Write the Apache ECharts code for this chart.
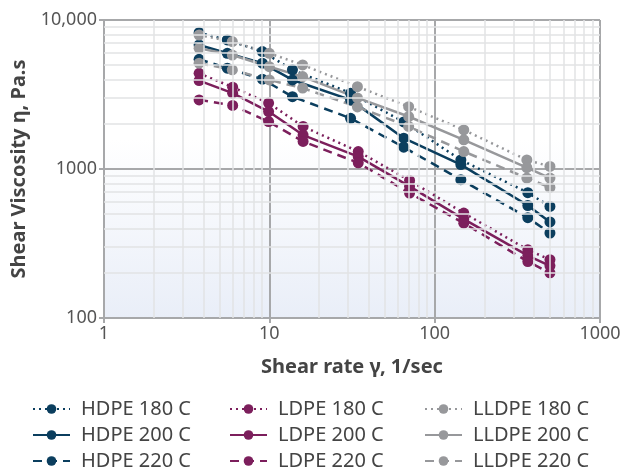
<!DOCTYPE html>
<html>
<head>
<meta charset="utf-8">
<script src="https://cdn.jsdelivr.net/npm/echarts@6/dist/echarts.min.js"></script>
<style>
  html, body { margin: 0; padding: 0; background: #fff; }
  #chart { width: 637px; height: 472px; }
</style>
</head>
<body>
<div id="chart"></div>
<script>
// shear rates (1/sec) per material
const hdpeRate  = [3.76, 5.57, 9.07, 13.8, 31, 65, 144, 366, 498];
const ldpeRate  = [3.76, 6.0, 9.9, 16, 34.5, 70.5, 150, 366, 498];
const lldpeRate = [3.76, 5.97, 10, 15.9, 34.1, 69.6, 150, 361, 498];

// shear viscosity (Pa.s)
const hdpe180  = [8220, 7350, 6140, 4630, 3230, 2070, 1150, 694, 561];
const hdpe200  = [6800, 5980, 5130, 3960, 2910, 1610, 1070, 569, 441];
const hdpe220  = [5450, 4750, 4010, 3060, 2190, 1400, 848, 471, 372];
const ldpe180  = [4390, 3540, 2770, 1930, 1310, 838, 506, 287, 246];
const ldpe200  = [3920, 3230, 2430, 1690, 1210, 764, 461, 262, 224];
const ldpe220  = [2910, 2670, 2080, 1530, 1100, 689, 433, 239, 201];
const lldpe180 = [7930, 7160, 5980, 4990, 3570, 2620, 1830, 1150, 1040];
const lldpe200 = [6460, 5820, 4860, 4170, 3000, 2250, 1570, 1020, 869];
const lldpe220 = [5130, 4630, 3960, 3490, 2610, 1930, 1310, 869, 752];

// minor grid positions
const xMinor = [2, 3, 4, 5, 6, 7, 8, 9, 20, 30, 40, 50, 60, 70, 80, 90, 200, 300, 400, 500, 600, 700, 800, 900];
const yMinor = [200, 300, 400, 500, 600, 700, 800, 900, 2000, 3000, 4000, 5000, 6000, 7000, 8000, 9000];

// legend layout: rows = temperature, columns = material
const legendRows = [
    ['HDPE 180 C', 'LDPE 180 C', 'LLDPE 180 C'],
    ['HDPE 200 C', 'LDPE 200 C', 'LLDPE 200 C'],
    ['HDPE 220 C', 'LDPE 220 C', 'LLDPE 220 C']
];

const colors = { HDPE: '#0b3e5e', LDPE: '#7c1f5c', LLDPE: '#97989b' };
const font = 'Noto Sans';

function zip(xs, ys) {
    return xs.map((x, i) => [x, ys[i]]);
}

function mkSeries(name, color, rates, vals, type) {
    return {
        name: name,
        type: 'line',
        data: zip(rates, vals),
        symbol: 'circle',
        symbolSize: 11,
        z: 3,
        itemStyle: { color: color },
        lineStyle: {
            color: color,
            width: 2.5,
            type: type === 'dotted' ? [2, 4] : (type === 'dashed' ? [9, 6] : 'solid')
        }
    };
}

const series = [
    {
        name: 'minor',
        type: 'line',
        data: [],
        silent: true,
        z: 1,
        markLine: {
            silent: true,
            symbol: 'none',
            label: { show: false },
            lineStyle: { color: '#e2e3e5', width: 1.5, type: 'solid' },
            animation: false,
            data: xMinor.map(v => ({ xAxis: v })).concat(yMinor.map(v => ({ yAxis: v })))
        }
    },
    mkSeries('HDPE 180 C', colors.HDPE, hdpeRate, hdpe180, 'dotted'),
    mkSeries('HDPE 200 C', colors.HDPE, hdpeRate, hdpe200, 'solid'),
    mkSeries('HDPE 220 C', colors.HDPE, hdpeRate, hdpe220, 'dashed'),
    mkSeries('LDPE 180 C', colors.LDPE, ldpeRate, ldpe180, 'dotted'),
    mkSeries('LDPE 200 C', colors.LDPE, ldpeRate, ldpe200, 'solid'),
    mkSeries('LDPE 220 C', colors.LDPE, ldpeRate, ldpe220, 'dashed'),
    mkSeries('LLDPE 180 C', colors.LLDPE, lldpeRate, lldpe180, 'dotted'),
    mkSeries('LLDPE 200 C', colors.LLDPE, lldpeRate, lldpe200, 'solid'),
    mkSeries('LLDPE 220 C', colors.LLDPE, lldpeRate, lldpe220, 'dashed')
];

const legendLeft = [32, 229, 424];
const legends = [];
legendRows.forEach((row, r) => {
    row.forEach((name, c) => {
        legends.push({
            left: legendLeft[c],
            top: 399 + r * 26,
            padding: 0,
            itemWidth: 37,
            itemHeight: 12,
            data: [name],
            textStyle: { fontFamily: font, fontSize: 20, color: '#444', padding: [0, 0, 0, 6] }
        });
    });
});

const axisGray = '#a7a8aa';

const option = {
    animation: false,
    backgroundColor: '#fff',
    textStyle: { fontFamily: font },
    grid: {
        left: 104, right: 37, top: 20, bottom: 154,
        show: true,
        borderWidth: 0,
        backgroundColor: new echarts.graphic.LinearGradient(0, 0, 0, 1, [
            { offset: 0, color: '#ffffff' },
            { offset: 0.4, color: '#ffffff' },
            { offset: 1, color: '#e9eef8' }
        ])
    },
    legend: legends,
    xAxis: {
        type: 'log',
        logBase: 10,
        min: 1,
        max: 1000,
        name: 'Shear rate γ, 1/sec',
        nameLocation: 'middle',
        nameGap: 39,
        nameTextStyle: { fontFamily: font, fontSize: 20, fontWeight: 'bold', color: '#444' },
        axisLine: { show: true, lineStyle: { color: axisGray, width: 2 } },
        axisTick: { show: true, length: 5, lineStyle: { color: axisGray, width: 2 } },
        axisLabel: { fontFamily: font, fontSize: 18, color: '#555', margin: 7, formatter: v => String(v) },
        splitLine: { show: true, showMinLine: true, showMaxLine: true, lineStyle: { color: axisGray, width: 2 } }
    },
    yAxis: {
        type: 'log',
        logBase: 10,
        min: 100,
        max: 10000,
        name: 'Shear Viscosity η, Pa.s',
        nameLocation: 'middle',
        nameGap: 69,
        nameTextStyle: { fontFamily: font, fontSize: 20, fontWeight: 'bold', color: '#444' },
        axisLine: { show: true, lineStyle: { color: axisGray, width: 2 } },
        axisTick: { show: true, length: 5, lineStyle: { color: axisGray, width: 2 } },
        axisLabel: {
            fontFamily: font, fontSize: 18, color: '#555', margin: 7,
            formatter: v => (v === 10000 ? '10,000' : String(v))
        },
        splitLine: { show: true, showMinLine: true, showMaxLine: true, lineStyle: { color: axisGray, width: 2 } }
    },
    series: series
};

const chart = echarts.init(document.getElementById('chart'), null, { renderer: 'canvas' });
chart.setOption(option);
</script>
</body>
</html>
